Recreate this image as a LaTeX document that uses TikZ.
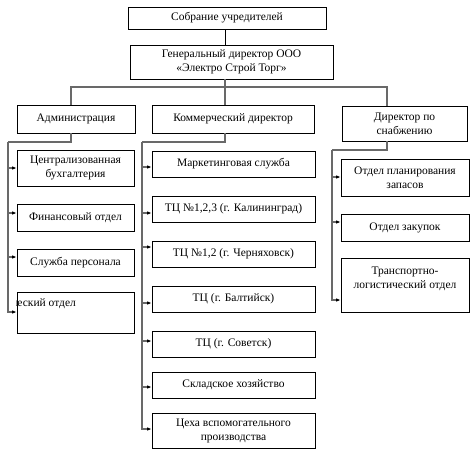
\documentclass[tikz,border=0pt]{standalone}
\usepackage{fontspec}
\setmainfont{Liberation Serif}
\usetikzlibrary{arrows.meta}
\begin{document}
\begin{tikzpicture}[x=1pt,y=-1pt,
  box/.style={draw, line width=0.7pt, inner sep=1pt, align=center,
    font=\fontsize{11.5}{14}\selectfont},
  txt/.style={inner sep=0pt, font=\fontsize{11.5}{14}\selectfont},
  conn/.style={draw={rgb,255:red,105;green,105;blue,105}, line width=1.3pt},
  arr/.style={conn, -{Latex[length=4.5pt,width=3.5pt,black]}}]
\useasboundingbox (0,0) rectangle (474,456);
% top levels
\node[box, minimum width=198pt, minimum height=22pt] (sob) at (227,18) {Собрание учредителей};
\node[box, minimum width=203pt, minimum height=34pt] (gen) at (231.5,62) {Генеральный директор ООО\\«Электро Строй Торг»};
\node[box, minimum width=118pt, minimum height=28pt] (adm) at (76,119) {Администрация};
\node[box, minimum width=162pt, minimum height=28pt] (kom) at (233,119) {Коммерческий директор};
\node[box, minimum width=125pt, minimum height=35pt] (sup) at (404.5,123.5) {Директор по\\снабжению};
% admin children
\node[box, minimum width=117pt, minimum height=36pt] (cb) at (75.5,168) {Централизованная\\бухгалтерия};
\node[box, minimum width=117pt, minimum height=27pt] (fin) at (75.5,217.5) {Финансовый отдел};
\node[box, minimum width=117pt, minimum height=27pt] (sp) at (75.5,262.5) {Служба персонала};
\node[box, minimum width=117pt, minimum height=41pt] (ek) at (75.5,312.5) {};
\begin{scope}
\clip (ek.south west) rectangle (ek.north east);
\node[txt, anchor=base west] (ektxt) at (11.5,306) {ческий отдел};
\end{scope}
% commercial children
\node[box, minimum width=163pt, minimum height=26pt] (m1) at (233.5,164) {Маркетинговая служба};
\node[box, minimum width=163pt, minimum height=26pt] (m2) at (233.5,209) {ТЦ №1,2,3 (г. Калининград)};
\node[box, minimum width=163pt, minimum height=26pt] (m3) at (233.5,254) {ТЦ №1,2 (г. Черняховск)};
\node[box, minimum width=163pt, minimum height=26pt] (m4) at (233.5,299) {ТЦ (г. Балтийск)};
\node[box, minimum width=163pt, minimum height=26pt] (m5) at (233.5,344) {ТЦ (г. Советск)};
\node[box, minimum width=163pt, minimum height=26pt] (m6) at (233.5,385) {Складское хозяйство};
\node[box, minimum width=163pt, minimum height=35pt] (m7) at (233.5,430.5) {Цеха вспомогательного\\производства};
% supply children
\node[box, minimum width=128pt, minimum height=37pt] (s1) at (405,177.5) {Отдел планирования\\запасов};
\node[box, minimum width=128pt, minimum height=27pt] (s2) at (405,227.5) {Отдел закупок};
\node[box, minimum width=128pt, minimum height=54pt] (s3) at (405,285) {Транспортно-\\логистический отдел\\\mbox{}};
% bus
\coordinate (b1) at (71,87);
\coordinate (b2) at (225,87);
\coordinate (b3) at (387,87);
\draw[line width=0.7pt] (sob.south -| b2) -- (gen.north -| b2);
\draw[conn] (gen.south -| b2) -- (b2);
\draw[conn] (adm.north -| b1) -- (b1) -- (b3) -- (sup.north -| b3);
\draw[conn] (b2) -- (kom.north -| b2);
% admin branch
\coordinate (a0) at (71,142);
\coordinate (a1) at (8,142);
\draw[conn] (adm.south -| a0) -- (a0) -- (a1);
\draw[arr] (a1) |- (cb.west |- 0,168);
\draw[arr] (a1) |- (fin.west |- 0,213);
\draw[arr] (a1) |- (sp.west |- 0,257);
\draw[arr] (a1) |- (ek.west |- 0,312);
% commercial branch
\coordinate (k0) at (225,142);
\coordinate (k1) at (142,142);
\draw[conn] (kom.south -| k0) -- (k0) -- (k1);
\draw[arr] (k1) |- (m1.west |- 0,167);
\draw[arr] (k1) |- (m2.west |- 0,213);
\draw[arr] (k1) |- (m3.west |- 0,247);
\draw[arr] (k1) |- (m4.west |- 0,303);
\draw[arr] (k1) |- (m5.west |- 0,341);
\draw[arr] (k1) |- (m6.west |- 0,387);
\draw[arr] (k1) |- (m7.west |- 0,429);
% supply branch
\coordinate (p0) at (387,150);
\coordinate (p1) at (332,150);
\draw[conn] (sup.south -| p0) -- (p0) -- (p1);
\draw[arr] (p1) |- (s1.west |- 0,177);
\draw[arr] (p1) |- (s2.west |- 0,222);
\draw[arr] (p1) |- (s3.west |- 0,300);
\end{tikzpicture}
\end{document}
